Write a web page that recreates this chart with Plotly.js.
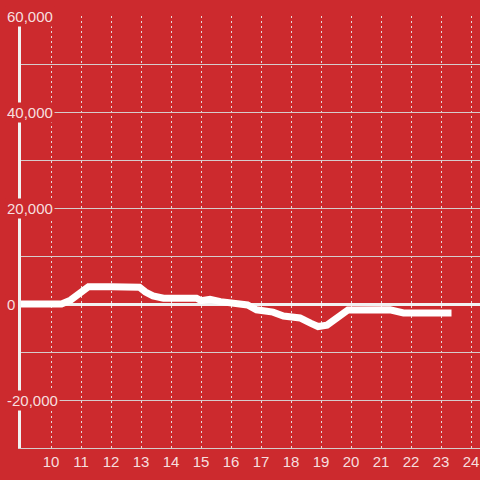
<!DOCTYPE html>
<html>
<head>
<meta charset="utf-8">
<script src="https://cdn.plot.ly/plotly-3.0.1.min.js"></script>
<style>html,body{margin:0;padding:0;background:#cc2a2e;}#chart{width:480px;height:480px;}</style>
</head>
<body>
<div id="chart"></div>
<script>
// Data
const hours = [9, 10, 10.35, 10.65, 10.97, 11.25, 12, 12.95, 13.15, 13.4, 13.75, 14.85, 15.0, 15.3, 15.65, 16.0, 16.55, 16.85, 17.4, 17.75, 18.3, 18.65, 18.9, 19.2, 19.55, 19.9, 21.3, 21.75, 23.35];
const values = [0, 0, 0, 800, 2200, 3600, 3600, 3500, 2500, 1700, 1200, 1200, 700, 1000, 500, 100, -200, -1200, -1700, -2500, -2900, -4000, -4700, -4400, -2800, -1250, -1200, -1850, -1850];
const xTicks = [10, 11, 12, 13, 14, 15, 16, 17, 18, 19, 20, 21, 22, 23, 24];
const yLabelValues = [60000, 40000, 20000, 0, -20000];

const RED = '#cc2a2e';
const LABEL = 'rgba(255,255,255,0.86)';
const FONT = 'Liberation Sans, Arial, sans-serif';
const L = 21, W = 480, R = 0;
const plotW = W - L - R;

function fmt(v) {
  const s = Math.abs(v).toLocaleString('en-US');
  return (v < 0 ? '-' : '') + s;
}

const annotations = yLabelValues.map(v => ({
  xref: 'paper', yref: 'y',
  x: (5 - L) / plotW, y: v,
  xanchor: 'left', yanchor: 'middle',
  text: fmt(v), showarrow: false,
  bgcolor: RED, borderpad: 1,
  font: {family: FONT, size: 15, color: LABEL}
}));

Plotly.newPlot('chart', [{
  x: hours, y: values, type: 'scatter', mode: 'lines',
  line: {color: '#ffffff', width: 7},
  hoverinfo: 'skip'
}], {
  width: 480, height: 480,
  margin: {l: L, r: R, t: 16, b: 32, pad: 0},
  paper_bgcolor: RED, plot_bgcolor: RED,
  showlegend: false,
  font: {family: FONT, size: 15, color: LABEL},
  xaxis: {
    range: [9, 24.3],
    tickvals: xTicks, ticktext: xTicks.map(String),
    ticks: '', showgrid: true, gridcolor: '#e6dada', gridwidth: 1, griddash: '2px,3px',
    showline: true, linecolor: '#d6cccc', linewidth: 1, mirror: false,
    zeroline: false,
    tickfont: {family: FONT, size: 15, color: LABEL}
  },
  yaxis: {
    range: [-30000, 60000],
    dtick: 10000, tick0: 0,
    showticklabels: false, ticks: '',
    showgrid: true, gridcolor: '#d6cccc', gridwidth: 1,
    showline: true, linecolor: '#f2f2f2', linewidth: 3,
    zeroline: true, zerolinecolor: '#f2f2f2', zerolinewidth: 3
  },
  annotations: annotations
}, {displayModeBar: false, staticPlot: true});
</script>
</body>
</html>
